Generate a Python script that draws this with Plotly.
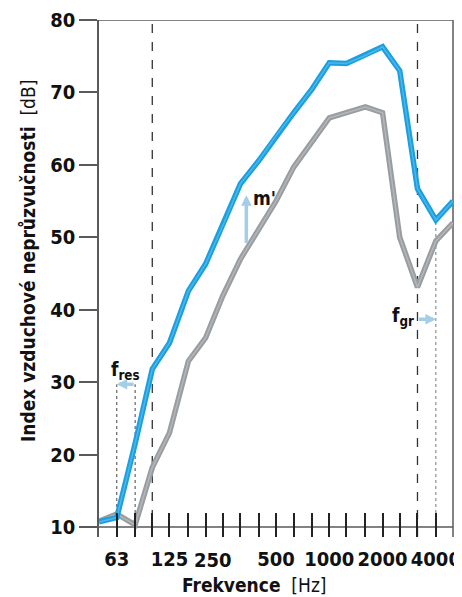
import math
import plotly.graph_objects as go

# ---- data ----
freqs = [50, 63, 80, 100, 125, 160, 200, 250, 315, 400, 500, 630, 800,
         1000, 1250, 1600, 2000, 2500, 3150, 4000, 5000]
r_heavy = [10.7, 11.3, 21.5, 31.8, 35.4, 42.6, 46.3, 51.6, 57.4, 60.6, 64.0,
           67.2, 70.5, 74.1, 74.0, 75.1, 76.3, 73.0, 56.7, 52.4, 55.0]
r_light = [10.8, 11.8, 10.3, 18.2, 23.0, 32.9, 36.1, 41.9, 47.0, 51.2, 55.0,
           59.7, 63.3, 66.5, 67.2, 68.0, 67.2, 50.0, 43.1, 49.5, 52.0]
label_freqs = [63, 125, 500, 1000, 2000, 4000]
label_text = ["63", "125", "500", "1000", "2000", "4000"]
offset_label_freq = 250
offset_label_text = "250"
y_ticks = [10, 20, 30, 40, 50, 60, 70, 80]
f_res = [63, 80]        # resonance band
f_gr = [3150, 4000]     # coincidence band
dashed_freqs = [100, 3150]
f_res_level = 29.7
f_gr_level = 38.7
m_freq = 340
m_levels = [49.0, 55.8]

FONT = "DejaVu Sans Condensed, Liberation Sans Narrow, sans-serif"
BLUE = "#1a9fe0"
BLUE_IN = "#4db6ea"
GRAY = "#9a9da0"
GRAY_IN = "#b4b7b9"
ARROW = "#a3cde8"
AX = "#5a5a5a"

y_min = 8.62
lg = math.log10

fig = go.Figure()
fig.add_trace(go.Scatter(x=freqs, y=r_light, mode="lines",
                         line=dict(color=GRAY, width=5.5), hoverinfo="skip", showlegend=False))
fig.add_trace(go.Scatter(x=freqs, y=r_light, mode="lines",
                         line=dict(color=GRAY_IN, width=1.5), hoverinfo="skip", showlegend=False))
fig.add_trace(go.Scatter(x=freqs, y=r_heavy, mode="lines",
                         line=dict(color=BLUE, width=5.5), hoverinfo="skip", showlegend=False))
fig.add_trace(go.Scatter(x=freqs, y=r_heavy, mode="lines",
                         line=dict(color=BLUE_IN, width=1.5), hoverinfo="skip", showlegend=False))

shapes = []
# frame: horizontal line at 10 dB, top and right borders
shapes.append(dict(type="line", xref="paper", yref="y", x0=0, x1=1, y0=10, y1=10,
                   line=dict(color=AX, width=1.5), layer="below"))
shapes.append(dict(type="line", xref="paper", yref="y", x0=0, x1=1, y0=80, y1=80,
                   line=dict(color=AX, width=1.5), layer="below"))
shapes.append(dict(type="line", xref="paper", yref="y", x0=1, x1=1, y0=y_min, y1=80,
                   line=dict(color=AX, width=1.5), layer="below"))
for f in dashed_freqs:
    shapes.append(dict(type="line", xref="x", yref="y", x0=f, x1=f, y0=y_min, y1=80,
                       line=dict(color="#333333", width=1.3, dash="dash"), layer="below"))
for f in f_res:
    shapes.append(dict(type="line", xref="x", yref="y", x0=f, x1=f, y0=y_min, y1=f_res_level,
                       line=dict(color="#444444", width=1, dash="dot"), layer="below"))
shapes.append(dict(type="line", xref="x", yref="y", x0=f_gr[1], x1=f_gr[1], y0=y_min,
                   y1=r_heavy[freqs.index(f_gr[1])],
                   line=dict(color="#777777", width=1, dash="dot"), layer="below"))

annotations = []
# 250 label (drawn slightly left, as in original)
annotations.append(dict(text="<b>%s</b>" % offset_label_text, x=lg(offset_label_freq), y=-0.045,
                        xref="x", yref="paper", xshift=-10, showarrow=False, yanchor="middle",
                        font=dict(family=FONT, size=20, color="#111111")))
# arrows
annotations.append(dict(x=lg(f_res[0]), y=f_res_level, ax=lg(f_res[1]), ay=f_res_level,
                        xref="x", yref="y", axref="x", ayref="y", text="", showarrow=True,
                        arrowhead=2, arrowsize=0.6, arrowwidth=3.5, arrowcolor=ARROW))
annotations.append(dict(x=lg(f_gr[1]), y=f_gr_level, ax=lg(f_gr[0]), ay=f_gr_level,
                        xref="x", yref="y", axref="x", ayref="y", text="", showarrow=True,
                        arrowhead=2, arrowsize=0.6, arrowwidth=3.5, arrowcolor=ARROW))
annotations.append(dict(x=lg(m_freq), y=m_levels[1], ax=lg(m_freq), ay=m_levels[0],
                        xref="x", yref="y", axref="x", ayref="y", text="", showarrow=True,
                        arrowhead=2, arrowsize=0.6, arrowwidth=3.5, arrowcolor=ARROW))
# labels
annotations.append(dict(text="<b>f<sub>res</sub></b>", x=lg(math.sqrt(f_res[0] * f_res[1])), y=31.6,
                        xref="x", yref="y", showarrow=False,
                        font=dict(family=FONT, size=19, color="#111111")))
annotations.append(dict(text="<b>f<sub>gr</sub></b>", x=lg(f_gr[0]), y=f_gr_level + 0.3,
                        xref="x", yref="y", xanchor="right", xshift=-1, showarrow=False,
                        font=dict(family=FONT, size=19, color="#111111")))
annotations.append(dict(text="<b>m'</b>", x=lg(m_freq), y=55.4, xref="x", yref="y",
                        xanchor="left", xshift=5, showarrow=False,
                        font=dict(family=FONT, size=19, color="#111111")))
# axis titles
annotations.append(dict(text="<b>Frekvence</b>\u00a0\u00a0[Hz]", x=0.438, y=-0.093,
                        xref="paper", yref="paper", showarrow=False, yanchor="middle",
                        font=dict(family=FONT, size=19, color="#111111")))
annotations.append(dict(text="<b>Index vzduchové neprůzvučnosti</b>\u00a0\u00a0[dB]", x=-0.2, y=0.534,
                        xref="paper", yref="paper", showarrow=False, textangle=-90,
                        xanchor="center", yanchor="middle",
                        font=dict(family=FONT, size=19, color="#111111")))

# page body has an 8px margin, so the figure is 8px smaller than the window
fig.update_layout(
    width=454, height=589,
    margin=dict(l=91, r=9, t=12, b=60),
    paper_bgcolor="white", plot_bgcolor="white",
    showlegend=False,
    shapes=shapes, annotations=annotations,
    xaxis=dict(type="log", range=[lg(50), lg(5000)], showgrid=False, zeroline=False,
               automargin=False, ticklabeloverflow="allow",
               showline=False, ticks="inside", ticklen=24, tickwidth=1.5, tickcolor="#222222",
               tickvals=label_freqs,
               ticktext=["<b>%s</b>" % t for t in label_text],
               ticklabelstandoff=8,
               minor=dict(tickvals=freqs, ticks="inside", ticklen=24, tickwidth=1.5,
                          tickcolor="#222222", showgrid=False),
               tickfont=dict(family=FONT, size=20, color="#111111")),
    yaxis=dict(range=[y_min, 80], showgrid=False, zeroline=False, showline=True,
               automargin=False,
               linecolor=AX, linewidth=1.5, ticks="outside", ticklen=18, tickwidth=1.5,
               tickcolor=AX, tickvals=y_ticks,
               ticktext=["<b>%d</b>" % v for v in y_ticks],
               tickfont=dict(family=FONT, size=20, color="#111111")),
)

fig.write_html("out.html")
